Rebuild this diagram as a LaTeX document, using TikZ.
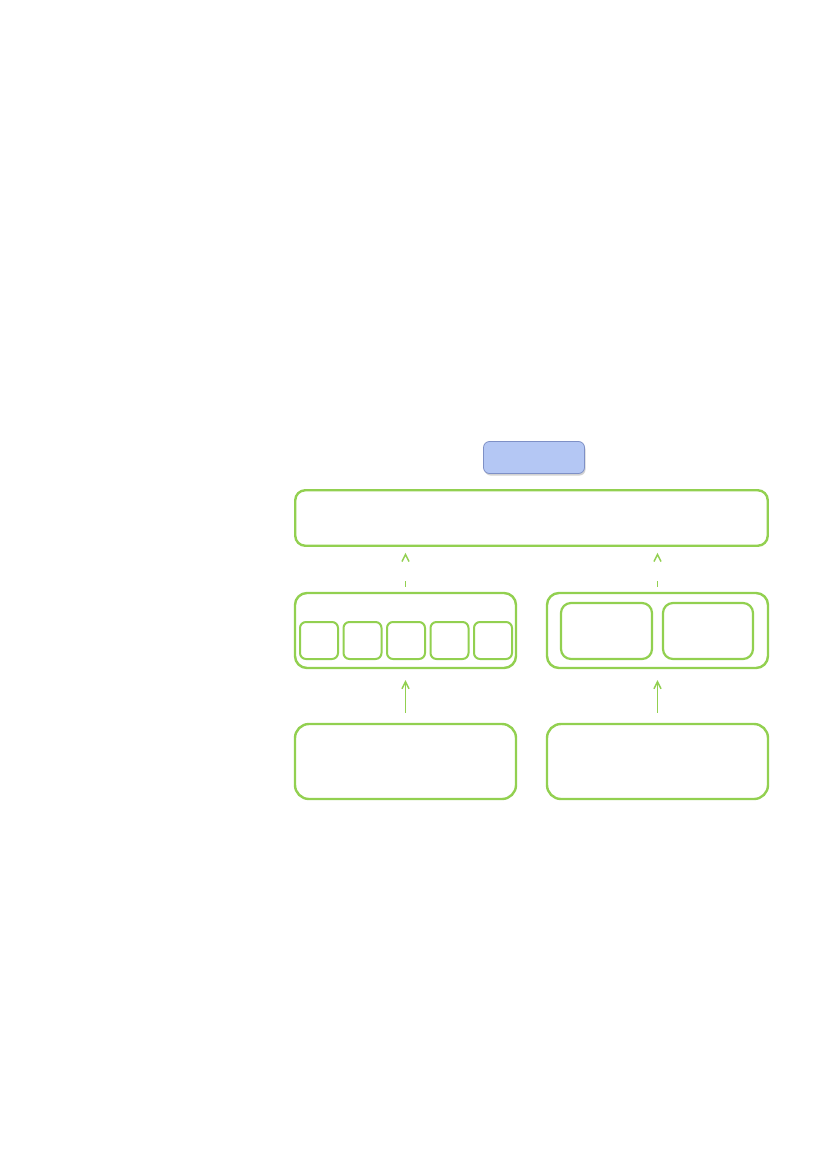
\documentclass[tikz,border=0pt]{standalone}
\usetikzlibrary{arrows.meta,shadows}
\definecolor{gr}{HTML}{92D050}
\definecolor{bfill}{HTML}{B4C7F4}
\definecolor{bline}{HTML}{7E90C6}
\begin{document}
\begin{tikzpicture}[x=1pt,y=-1pt,
  gbox/.style={draw=gr,line width=2.4pt,rounded corners=#1,inner sep=0pt,fill=white},
  gbox/.default=11pt,
  sbox/.style={draw=gr,line width=2pt,rounded corners=6pt,inner sep=0pt,minimum width=38pt,minimum height=37pt},
  ibox/.style={draw=gr,line width=2.2pt,rounded corners=10pt,inner sep=0pt,minimum width=91pt,minimum height=56pt},
  upar/.style={draw=gr,line width=1.4pt,-{Straight Barb[length=7pt,width=7pt]}},
  dashar/.style={upar,dash pattern=on 6pt off 40pt}]
\useasboundingbox[fill=white] (0,0) rectangle (827,1169);
% top blue box
\node[draw=bline,line width=0.8pt,fill=bfill,rounded corners=6pt,minimum width=101pt,minimum height=32pt,inner sep=0pt,
  drop shadow={shadow xshift=1pt,shadow yshift=-2pt,opacity=0.35}] (blue) at (534,457.5) {};
% wide box
\node[gbox=10pt,minimum width=472.5pt,minimum height=55.5pt] (wide) at (531.5,518) {};
% middle boxes
\node[gbox=12pt,minimum width=221pt,minimum height=75pt] (ml) at (405.5,630.5) {};
\node[gbox=12pt,minimum width=221pt,minimum height=75pt] (mr) at (657.5,630.5) {};
% small boxes in left
\node[sbox] (s1) at (319,640.5) {};
\node[sbox] (s2) at (362.5,640.5) {};
\node[sbox] (s3) at (406,640.5) {};
\node[sbox] (s4) at (449.5,640.5) {};
\node[sbox] (s5) at (493,640.5) {};
% inner boxes in right
\node[ibox] (r1) at (606.5,631) {};
\node[ibox,minimum width=90pt] (r2) at (708,631) {};
% bottom boxes
\node[gbox=14pt,minimum width=221pt,minimum height=75pt] (bl) at (405.5,761.5) {};
\node[gbox=14pt,minimum width=221pt,minimum height=75pt] (br) at (657.5,761.5) {};
% arrows
\draw[upar,shorten <=10pt,shorten >=11pt] (bl.north) -- (ml.south);
\draw[upar,shorten <=10pt,shorten >=11pt] (br.north) -- (mr.south);
\draw[dashar,shorten <=5pt,shorten >=6pt] (ml.north) -- (ml.north |- wide.south);
\draw[dashar,shorten <=5pt,shorten >=6pt] (mr.north) -- (mr.north |- wide.south);
\end{tikzpicture}
\end{document}
